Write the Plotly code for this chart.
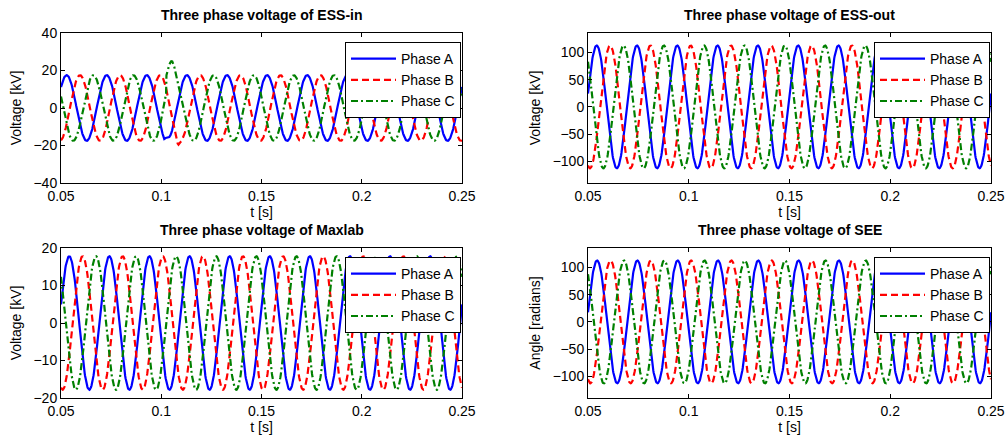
import numpy as np
import plotly.graph_objects as go

# --- values ------------------------------------------------------------
panel_names = ["ESS-in", "ESS-out", "Maxlab", "SEE"]
amplitudes = [17.5, 113.0, 17.8, 113.0]          # peak value of each phase
peak_time_a = [0.0528, 0.0543, 0.0541, 0.0545]   # first peak of phase A [s]
frequency = 50.0                                  # Hz
phase_lag = {"Phase A": 0.0, "Phase B": 1 / 3, "Phase C": 2 / 3}  # fraction of a cycle
y_titles = ["Voltage [kV]", "Voltage [kV]", "Voltage [kV]", "Angle [radians]"]
y_ranges = [[-40, 40], [-140, 136], [-20, 20], [-140, 136]]
y_ticks = [[-40, -20, 0, 20, 40], [-100, -50, 0, 50, 100],
           [-20, -10, 0, 10, 20], [-100, -50, 0, 50, 100]]
x_ticks = [0.05, 0.1, 0.15, 0.2, 0.25]
x_ticktext = ["0.05", "0.1", "0.15", "0.2", "0.25"]

# switching transient in ESS-in (samples)
transient_a_t = [0.1015, 0.1022, 0.1028, 0.1034, 0.1040, 0.1046]
transient_a_v = [-16.5, -16.0, -15.8, -15.8, -15.5, -14.5]
transient_b_t = [0.1072, 0.1077, 0.1082, 0.1086, 0.1090, 0.1095, 0.1100, 0.1104]
transient_b_v = [-13.8, -17.5, -19.0, -19.6, -19.2, -18.3, -17.6, -17.2]
transient_c_t = [0.1024, 0.1026, 0.1030, 0.1035, 0.1040, 0.1045, 0.1050,
                 0.1055, 0.1060, 0.1065, 0.1070, 0.1075, 0.1080, 0.1085]
transient_c_v = [7.5, 17.5, 19.5, 21.5, 23.0, 24.2, 24.9,
                 24.8, 23.8, 22.0, 19.5, 17.0, 14.5, 12.0]
transients = {"Phase A": (transient_a_t, transient_a_v),
              "Phase B": (transient_b_t, transient_b_v),
              "Phase C": (transient_c_t, transient_c_v)}

t = np.arange(0.05, 0.25 + 1e-9, 0.0002)

styles = {
    "Phase A": dict(color="#0000FF", width=2.2, dash="solid"),
    "Phase B": dict(color="#FF0000", width=2.2, dash="7px,4px"),
    "Phase C": dict(color="#008000", width=2.2, dash="7px,3px,2px,3px"),
}

W, H = 1008, 439
# plot areas in window pixels (left, right, top, bottom)
boxes = [(61, 462, 33, 183), (588, 991, 33, 183),
         (61, 462, 248, 398), (588, 991, 248, 398)]

FONT = "Liberation Sans, Arial, sans-serif"
fig = go.Figure()

for i, name in enumerate(panel_names):
    n = "" if i == 0 else str(i + 1)
    leg = "legend" + n
    for phase, lag in phase_lag.items():
        tc = peak_time_a[i] + lag / frequency
        x = t.copy()
        y = amplitudes[i] * np.cos(2 * np.pi * frequency * (t - tc))
        if i == 0:
            tt, vv = transients[phase]
            keep = (x < tt[0] - 1e-6) | (x > tt[-1] + 1e-6)
            x = np.concatenate([x[keep], tt])
            y = np.concatenate([y[keep], vv])
            order = np.argsort(x)
            x, y = x[order], y[order]
        fig.add_trace(go.Scatter(
            x=x, y=y, mode="lines", name=phase, line=styles[phase],
            xaxis="x" + n, yaxis="y" + n, legend=leg,
        ))

    l, r, tp, b = boxes[i]
    dom_x = [l / W, r / W]
    dom_y = [1 - b / H, 1 - tp / H]
    axis_common = dict(
        showline=True, linecolor="black", linewidth=1, mirror="ticks",
        ticks="inside", ticklen=4, tickcolor="black", showgrid=False,
        zeroline=False, automargin=False,
        tickfont=dict(family=FONT, size=14, color="black"),
    )
    fig.update_layout({
        "xaxis" + n: dict(
            domain=dom_x, range=[0.05, 0.25], tickvals=x_ticks,
            ticktext=x_ticktext, anchor="y" + n,
            title=dict(text="t [s]", standoff=2,
                       font=dict(family=FONT, size=14, color="black")),
            **axis_common),
        "yaxis" + n: dict(
            domain=dom_y, range=y_ranges[i], tickvals=y_ticks[i],
            anchor="x" + n,
            title=dict(text=y_titles[i], standoff=8,
                       font=dict(family=FONT, size=14, color="black")),
            **axis_common),
        leg: dict(
            x=(r - 1) / W, xanchor="right", y=1 - (tp + 9) / H, yanchor="top",
            bgcolor="white", bordercolor="black", borderwidth=1,
            font=dict(family=FONT, size=14, color="black"),
            tracegroupgap=0, itemwidth=45,
        ),
    })
    fig.add_annotation(
        text="<b>Three phase voltage of %s</b>" % name,
        x=(l + r) / 2 / W, y=1 - (tp - 18) / H, xref="paper", yref="paper",
        xanchor="center", yanchor="middle", showarrow=False,
        font=dict(family=FONT, size=14, color="black"),
    )

fig.update_layout(
    template="none",
    width=W, height=H, margin=dict(l=0, r=0, t=0, b=0),
    paper_bgcolor="white", plot_bgcolor="white", showlegend=True,
)

# drop the default body margin so the 1008x439 figure fills the window
fig.write_html(
    "out.html",
    config={"displayModeBar": False},
    post_script="document.body.style.margin='0';"
                "document.body.style.overflow='hidden';",
)
